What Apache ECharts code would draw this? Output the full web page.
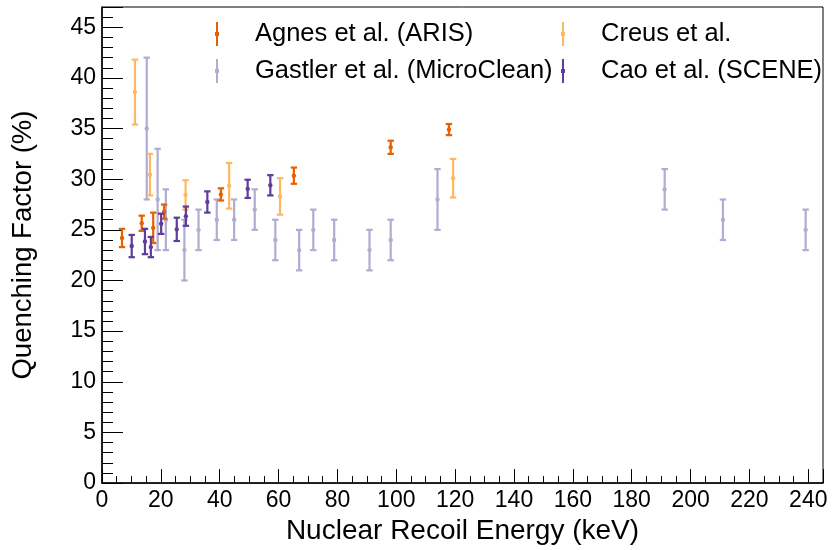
<!DOCTYPE html>
<html>
<head>
<meta charset="utf-8">
<script src="https://cdn.jsdelivr.net/npm/echarts@6/dist/echarts.min.js"></script>
<style>
html,body{margin:0;padding:0;background:#fff;}
#chart{width:833px;height:550px;}
</style>
</head>
<body>
<div id="chart"></div>
<script>
// ---- data (x = nuclear recoil energy keV, y = quenching factor %, err = +/- error) ----
const agnesName = 'Agnes et al. (ARIS)';
const agnesX   = [6.8, 13.5, 17.4, 21.1, 40.4, 65.2, 98.1, 117.9];
const agnesY   = [24.2, 25.65, 25.2, 26.8, 28.5, 30.35, 33.15, 34.9];
const agnesErr = [0.9, 0.75, 1.5, 0.7, 0.6, 0.8, 0.65, 0.55];

const creusName = 'Creus et al.';
const creusX   = [11.2, 16.3, 28.4, 43.2, 60.5, 119.3];
const creusY   = [38.6, 30.45, 28.45, 29.35, 28.3, 30.1];
const creusErr = [3.2, 2.05, 1.45, 2.25, 1.8, 1.9];

const gastlerName = 'Gastler et al. (MicroClean)';
const gastlerX   = [15.2, 18.9, 21.7, 28.0, 32.8, 39.0, 44.9, 51.9, 58.9, 67.0, 71.8, 78.9, 90.9, 98.1, 114.0, 191.2, 211.0, 239.1];
const gastlerY   = [35, 28, 26, 23, 25, 26, 26, 27, 24, 23, 25, 24, 23, 24, 28, 29, 26, 25];
const gastlerErr = [7, 5, 3, 3, 2, 2, 2, 2, 2, 2, 2, 2, 2, 2, 3, 2, 2, 2];

const caoName = 'Cao et al. (SCENE)';
const caoX   = [10.1, 14.6, 16.6, 20.1, 25.4, 28.5, 35.8, 49.5, 57.2];
const caoY   = [23.4, 23.85, 23.3, 25.6, 25.05, 26.35, 27.75, 29.05, 29.4];
const caoErr = [1.1, 1.25, 1.0, 1.0, 1.15, 0.95, 1.05, 0.9, 1.0];

const xTitle = 'Nuclear Recoil Energy (keV)';
const yTitle = 'Quenching Factor (%)';

// ---- build ----
function zip(xs, ys, es){ return xs.map((x,i)=>[x, ys[i], es[i]]); }

function renderErr(params, api){
  const x = api.value(0), y = api.value(1), e = api.value(2);
  const p = api.coord([x, y]);
  const hi = api.coord([x, y + e]);
  const lo = api.coord([x, y - e]);
  const color = api.visual('color');
  const cw = 3.2;
  const ls = {stroke: color, lineWidth: 2.2};
  return {type:'group', children:[
    {type:'line', shape:{x1:p[0], y1:hi[1], x2:p[0], y2:lo[1]}, style:ls},
    {type:'line', shape:{x1:p[0]-cw, y1:hi[1], x2:p[0]+cw, y2:hi[1]}, style:ls},
    {type:'line', shape:{x1:p[0]-cw, y1:lo[1], x2:p[0]+cw, y2:lo[1]}, style:ls},
    {type:'circle', shape:{cx:p[0], cy:p[1], r:2.2}, style:{fill: color}}
  ]};
}

function errSeries(name, xs, ys, es, color){
  return {
    type:'custom', name: name, renderItem: renderErr,
    itemStyle:{color: color},
    encode:{x:0, y:1},
    data: zip(xs, ys, es),
    z: 2
  };
}

const icon = 'path://M-1,0H1V10H2V14H1V24H-1V14H-2V10H-1Z';
function leg(name, left, top){
  return {
    data:[{name:name, icon:icon}],
    left:left, top:top, padding:0,
    itemWidth:66, itemHeight:24, itemGap:0,
    selectedMode:false,
    textStyle:{fontFamily:'Liberation Sans', fontSize:25.5, color:'#000'}
  };
}

const chart = echarts.init(document.getElementById('chart'), null, {renderer:'canvas'});
chart.setOption({
  animation:false,
  backgroundColor:'#fff',
  grid:{left:102, right:10, top:7, bottom:60, show:true, borderColor:'#000', borderWidth:1},
  legend:[
    leg(agnesName, 215, 21),
    leg(creusName, 561, 21),
    leg(gastlerName, 215, 58),
    leg(caoName, 561, 58)
  ],
  xAxis:{
    type:'value', min:0, max:245, interval:20,
    name:xTitle, nameLocation:'middle', nameGap:26,
    nameTextStyle:{fontFamily:'Liberation Sans', fontSize:28, color:'#000'},
    axisLine:{lineStyle:{color:'#000', width:1.5}},
    axisTick:{inside:true, length:14, lineStyle:{color:'#000', width:1}},
    minorTick:{show:true, splitNumber:4, length:7, lineStyle:{color:'#000', width:1}},
    splitLine:{show:false},
    axisLabel:{fontFamily:'Liberation Sans', fontSize:23, color:'#000', margin:6, showMaxLabel:false,
      formatter:v=> (v % 20 === 0 ? String(v) : '')}
  },
  yAxis:{
    type:'value', min:0, max:47, interval:5,
    name:yTitle, nameLocation:'middle', nameGap:65,
    nameTextStyle:{fontFamily:'Liberation Sans', fontSize:27.5, color:'#000'},
    axisLine:{lineStyle:{color:'#000', width:1.5}},
    axisTick:{inside:true, length:21, lineStyle:{color:'#000', width:1}},
    minorTick:{show:true, splitNumber:5, length:11, lineStyle:{color:'#000', width:1}},
    splitLine:{show:false},
    axisLabel:{fontFamily:'Liberation Sans', fontSize:23, color:'#000', margin:6, showMaxLabel:false,
      formatter:v=> (v % 5 === 0 ? String(v) : '')}
  },
  series:[
    errSeries(gastlerName, gastlerX, gastlerY, gastlerErr, '#b2abd2'),
    errSeries(creusName, creusX, creusY, creusErr, '#fdb863'),
    errSeries(agnesName, agnesX, agnesY, agnesErr, '#e66101'),
    errSeries(caoName, caoX, caoY, caoErr, '#5e3c99')
  ]
});
</script>
</body>
</html>
